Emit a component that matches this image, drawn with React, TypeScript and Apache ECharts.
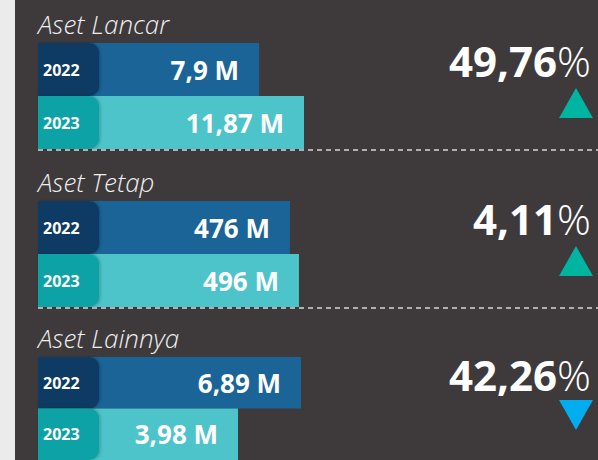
import React, { useEffect, useRef } from "react";
import * as echarts from "echarts";

// ---- data ----
const categories = ["Aset Lancar", "Aset Tetap", "Aset Lainnya"];
const years = ["2022", "2023"];
const values2022 = [7.9, 476, 6.89]; // in M
const values2023 = [11.87, 496, 3.98]; // in M
const unit = "M";
const changePct = [49.76, 4.11, 42.26];
const changeDir = ["up", "up", "down"];
// visual bar length index (longest bar = 100)
const barLength2022 = [83.1, 94.7, 98.9];
const barLength2023 = [100, 98.1, 75.2];

// ---- styles / layout ----
const FONT = "'Open Sans', 'Noto Sans', sans-serif";
const BG = "#3e3a3b";
const STRIP = "#ebebeb";
const barColors = ["#1a6497", "#4dc4ca"];
const tabColors = ["#0d3a63", "#0fa3a6"];
const dirColors: Record<string, string> = { up: "#00b4a2", down: "#00adef" };
const GROUP_TOPS = [43, 201, 357];
const GRID_H = 106;
const GRID_LEFT = 38;
const GRID_W = 266;
const TAB_LEN = 23;

const fmt = (v: number) => String(v).replace(".", ",");

export default function App() {
  const ref = useRef<HTMLDivElement>(null);
  useEffect(() => {
    if (!ref.current) return;
    const chart = echarts.init(ref.current, null, { renderer: "svg" });

    const grids: any[] = [];
    const xAxes: any[] = [];
    const yAxes: any[] = [];
    const series: any[] = [];
    const graphics: any[] = [
      { type: "rect", left: 0, top: 0, shape: { x: 0, y: 0, width: 15, height: 460 }, style: { fill: STRIP }, silent: true },
    ];

    categories.forEach((cat, g) => {
      const top = GROUP_TOPS[g];
      grids.push({ left: GRID_LEFT, top, width: GRID_W, height: GRID_H });
      xAxes.push({ type: "value", gridIndex: g, min: 0, max: 100, show: false });
      yAxes.push({ type: "category", gridIndex: g, data: years, inverse: true, show: false });
      const vals = [values2022[g], values2023[g]];
      const lens = [barLength2022[g], barLength2023[g]];
      series.push({
        type: "bar",
        xAxisIndex: g,
        yAxisIndex: g,
        barCategoryGap: "0%",
        barGap: "-100%",
        silent: true,
        data: years.map((y, i) => ({ value: lens[i], itemStyle: { color: barColors[i] } })),
        label: {
          show: true,
          position: "insideRight",
          distance: 20,
          formatter: (p: any) => `${fmt(vals[p.dataIndex])} ${unit}`,
          color: "#ffffff",
          fontSize: 26,
          fontWeight: "bold",
          fontFamily: FONT,
        },
      });
      series.push({
        type: "bar",
        xAxisIndex: g,
        yAxisIndex: g,
        barCategoryGap: "0%",
        barGap: "-100%",
        silent: true,
        z: 3,
        data: years.map((y, i) => ({
          value: TAB_LEN,
          itemStyle: {
            color: tabColors[i],
            borderRadius: [0, 10, 10, 0],
            shadowBlur: 3,
            shadowOffsetX: 1,
            shadowColor: "rgba(0,0,0,0.25)",
          },
        })),
        label: {
          show: true,
          position: "insideLeft",
          distance: 5,
          formatter: (p: any) => p.name,
          color: "#ffffff",
          fontSize: 16,
          fontWeight: "bold",
          fontFamily: FONT,
        },
      });

      // category title
      graphics.push({
        type: "text",
        x: GRID_LEFT,
        y: top - 19,
        silent: true,
        style: {
          text: cat,
          fill: "#eeeeee",
          font: `italic 300 26px ${FONT}`,
          verticalAlign: "middle",
          align: "left",
        },
      });
      // percent change
      graphics.push({
        type: "text",
        x: 591,
        y: top + 17,
        silent: true,
        style: {
          text: `{a|${fmt(changePct[g])}}{b|%}`,
          align: "right",
          verticalAlign: "middle",
          rich: {
            a: { fontFamily: FONT, fontWeight: "bold", fontSize: 42, fill: "#ffffff" },
            b: { fontFamily: FONT, fontWeight: 300, fontSize: 42, fill: "#ffffff" },
          },
        },
      });
      // direction triangle
      const cx = 576;
      const hw = 17;
      const ty = top + (changeDir[g] === "up" ? 45 : 43);
      const pts =
        changeDir[g] === "up"
          ? [[cx - hw, ty + 30], [cx + hw, ty + 30], [cx, ty]]
          : [[cx - hw, ty], [cx + hw, ty], [cx, ty + 30]];
      graphics.push({
        type: "polygon",
        silent: true,
        shape: { points: pts },
        style: { fill: dirColors[changeDir[g]] },
      });
      // dashed separator
      if (g < categories.length - 1) {
        const ly = top + GRID_H + 1;
        graphics.push({
          type: "line",
          silent: true,
          z: 10,
          shape: { x1: GRID_LEFT, y1: ly, x2: 598, y2: ly },
          style: { stroke: "#d8d8d8", lineWidth: 1.5, lineDash: [5, 4] },
        });
      }
    });

    chart.setOption({
      animation: false,
      backgroundColor: BG,
      grid: grids,
      xAxis: xAxes,
      yAxis: yAxes,
      series,
      graphic: graphics,
    });
    return () => chart.dispose();
  }, []);

  return (
    <div
      ref={ref}
      style={{ position: "absolute", left: 0, top: 0, width: 598, height: 460 }}
    />
  );
}
